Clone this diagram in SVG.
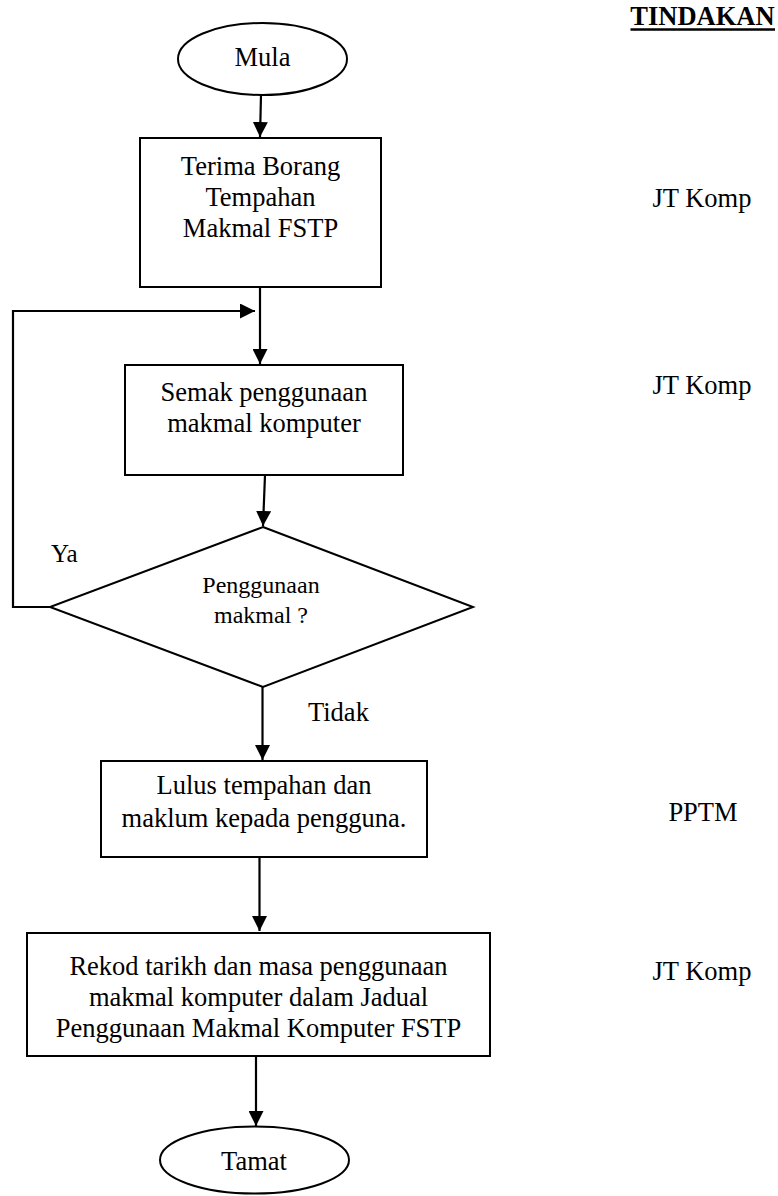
<svg xmlns="http://www.w3.org/2000/svg" width="778" height="1196" viewBox="0 0 778 1196">
<style>
.shape{fill:#fff;stroke:#000;stroke-width:2}
.t{font-family:"Liberation Serif","Times New Roman",serif;font-size:26.5px;fill:#000;text-anchor:middle}
.ts{font-size:24px}
.tl{text-anchor:start}
.conn{fill:none;stroke:#000;stroke-width:2.2}
</style>
<defs>
<marker id="arr" markerUnits="userSpaceOnUse" markerWidth="15" markerHeight="15" refX="15" refY="7.5" orient="auto">
<path d="M0,0 L15,7.5 L0,15 z" fill="#000"/>
</marker>
</defs>
<g id="header">
<text class="t" x="702.5" y="25" font-weight="bold">TINDAKAN</text>
<line x1="630.5" y1="29.5" x2="775" y2="29.5" stroke="#000" stroke-width="2.5"/>
</g>
<g id="connectors">
<line class="conn" x1="261" y1="95" x2="260" y2="137" marker-end="url(#arr)"/>
<line class="conn" x1="260" y1="287" x2="260" y2="364" marker-end="url(#arr)"/>
<polyline class="conn" points="50,607 13,607 13,311 255,311" marker-end="url(#arr)"/>
<line class="conn" x1="265" y1="475" x2="263" y2="526" marker-end="url(#arr)"/>
<line class="conn" x1="262.5" y1="687" x2="262.5" y2="760" marker-end="url(#arr)"/>
<line class="conn" x1="259.5" y1="857" x2="259.5" y2="931" marker-end="url(#arr)"/>
<line class="conn" x1="256" y1="1056" x2="256" y2="1126" marker-end="url(#arr)"/>
</g>
<g id="mula">
<ellipse class="shape" cx="262.5" cy="59" rx="84.5" ry="36"/>
<text class="t" x="262.5" y="66">Mula</text>
</g>
<g id="terima">
<rect class="shape" x="140" y="138" width="241" height="149"/>
<text class="t" x="260.5" y="175">Terima Borang</text>
<text class="t" x="260.5" y="206">Tempahan</text>
<text class="t" x="260.5" y="237">Makmal FSTP</text>
</g>
<g id="semak">
<rect class="shape" x="125" y="365" width="278" height="110"/>
<text class="t" x="264" y="401">Semak penggunaan</text>
<text class="t" x="264" y="432">makmal komputer</text>
</g>
<g id="keputusan">
<polygon class="shape" points="263,527 473,607 263,687 50,607"/>
<text class="t ts" x="261" y="593">Penggunaan</text>
<text class="t ts" x="261" y="623">makmal ?</text>
</g>
<g id="label-ya">
<text class="t tl" x="51" y="562" style="font-size:25px">Ya</text>
</g>
<g id="label-tidak">
<text class="t tl" x="308" y="721">Tidak</text>
</g>
<g id="lulus">
<rect class="shape" x="101" y="761" width="326" height="96"/>
<text class="t" x="264" y="794">Lulus tempahan dan</text>
<text class="t" x="264" y="827">maklum kepada pengguna.</text>
</g>
<g id="rekod">
<rect class="shape" x="27" y="933" width="463" height="123"/>
<text class="t" x="258.5" y="975">Rekod tarikh dan masa penggunaan</text>
<text class="t" x="258.5" y="1006">makmal komputer dalam Jadual</text>
<text class="t" x="258.5" y="1037">Penggunaan Makmal Komputer FSTP</text>
</g>
<g id="tamat">
<ellipse class="shape" cx="254.5" cy="1160" rx="94.5" ry="33.5"/>
<text class="t" x="254" y="1170">Tamat</text>
</g>
<g id="tindakan">
<text class="t" x="702" y="207">JT Komp</text>
<text class="t" x="702" y="394">JT Komp</text>
<text class="t" x="703" y="821">PPTM</text>
<text class="t" x="702" y="980">JT Komp</text>
</g>
</svg>
